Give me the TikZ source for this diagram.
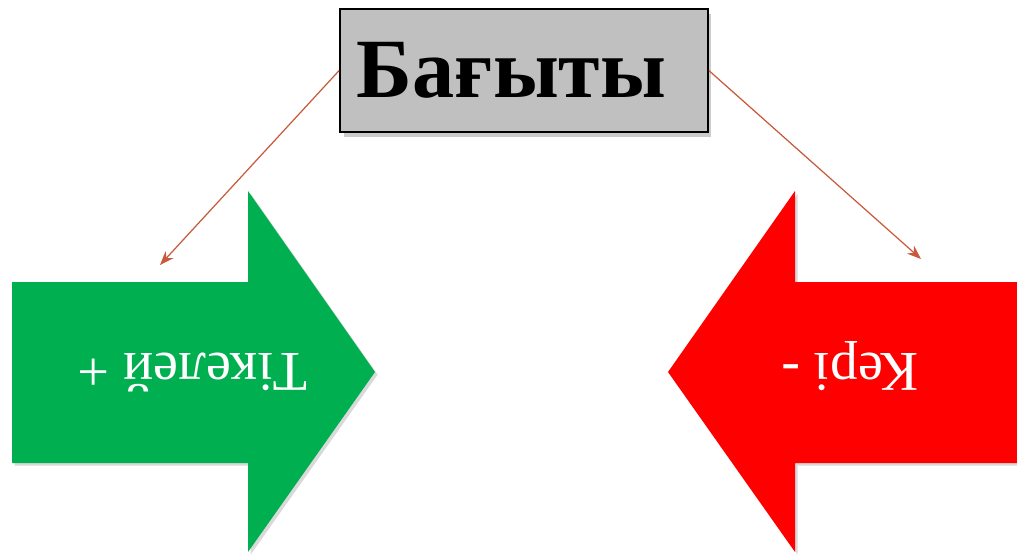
\documentclass[tikz,border=0pt]{standalone}
\usepackage{fontspec}
\setmainfont{Liberation Serif}
\usetikzlibrary{arrows.meta,shadows}
\definecolor{boxgray}{RGB}{192,192,192}
\definecolor{dirgreen}{RGB}{0,176,80}
\definecolor{dirred}{RGB}{255,0,0}
\definecolor{linkred}{RGB}{200,90,60}
\tikzset{
  bigarrow/.style={draw=none, drop shadow={opacity=0.3, shadow xshift=1.5pt, shadow yshift=-1.5pt}},
  arrowtext/.style={text=white, rotate=180, anchor=base, inner sep=0pt, font=\fontsize{32}{36}\selectfont},
  link/.style={draw=linkred, line width=0.7pt, -{Stealth[length=8pt,width=6pt]}}
}

\begin{document}
\begin{tikzpicture}[x=0.02cm, y=-0.02cm]
		\useasboundingbox (0,0) rectangle (1017,555);
		\fill[dirgreen, bigarrow] (12,282) -- (248,282) -- (248,191) -- (375,372) -- (248,552) -- (248,463) -- (12,463) -- cycle;
		\fill[dirred, bigarrow] (1017,282) -- (795,282) -- (795,191) -- (668,372) -- (795,552) -- (795,463) -- (1017,463) -- cycle;
		\node (title)[draw, line width=1pt, fill=boxgray, minimum width=7.36cm, minimum height=2.46cm, inner sep=0pt, font=\bfseries\fontsize{48}{50}\selectfont, drop shadow={opacity=0.4, shadow xshift=2pt, shadow yshift=-3pt}] at (524,70.5) {Бағыты\kern0.5cm};
		\node (direct)[arrowtext] at (193,353) {Тікелей +};
		\node (inverse)[arrowtext] at (850,353) {Кері -};
		\coordinate (lefttip) at (160,265);
		\coordinate (righttip) at (921,259);
		\draw [link](title.west) -- (lefttip);
		\draw [link](title.east) -- (righttip);
	\end{tikzpicture}
\end{document}
